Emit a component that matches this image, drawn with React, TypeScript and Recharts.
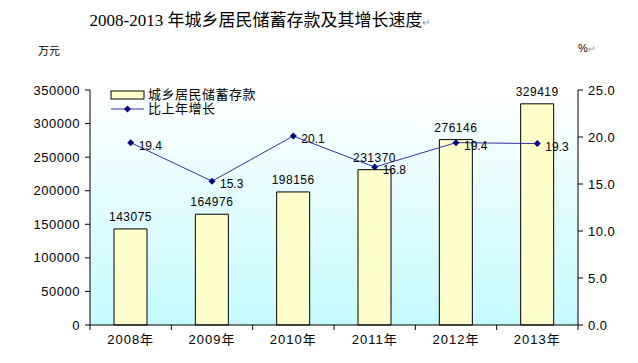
import { ComposedChart, Bar, Line, XAxis, YAxis, CartesianGrid, Legend, LabelList } from "recharts"

const years = ["2008年", "2009年", "2010年", "2011年", "2012年", "2013年"]
const deposits = [143075, 164976, 198156, 231370, 276146, 329419]
const growth = [19.4, 15.3, 20.1, 16.8, 19.4, 19.3]
const leftTicks = [0, 50000, 100000, 150000, 200000, 250000, 300000, 350000]
const rightTicks = [0, 5, 10, 15, 20, 25]

const data = years.map((year, i) => ({ year, deposit: deposits[i], growth: growth[i] }))

const W = 638
const H = 363
const margin = { top: 90, right: 10, left: 30, bottom: 8 }
const leftAxisW = 60
const rightAxisW = 50
const plotW = W - margin.left - margin.right - leftAxisW - rightAxisW
const halfBand = plotW / years.length / 2

const sans = '"Liberation Sans", Arial, "Noto Sans CJK SC", sans-serif'

function Diamond(props: any) {
  const { cx, cy } = props
  if (cx == null || cy == null) return null
  const r = 3.5
  return <path d={`M${cx},${cy - r}L${cx + r},${cy}L${cx},${cy + r}L${cx - r},${cy}Z`} fill="#000080" />
}

function YearTick(props: any) {
  const { x, y, payload, index } = props
  return (
    <g>
      <line x1={x - halfBand} y1={y - 8} x2={x - halfBand} y2={y - 3} stroke="#000" />
      {index === years.length - 1 && (
        <line x1={x + halfBand} y1={y - 8} x2={x + halfBand} y2={y - 3} stroke="#000" />
      )}
      <text x={x} y={y + 11} textAnchor="middle" fontSize={13} letterSpacing={1} fill="#000" fontFamily={sans}>
        {payload.value}
      </text>
    </g>
  )
}

// growth label, a little below the point like in the original
function GrowthLabel(props: any) {
  const { x, y, value } = props
  if (x == null || y == null) return null
  return (
    <text x={x + 8} y={y + 7} fontSize={12} fill="#000" fontFamily={sans}>
      {Number(value).toFixed(1)}
    </text>
  )
}

function LegendBox() {
  return (
    <div style={{ fontFamily: sans, fontSize: 13, color: "#000", lineHeight: "14px", textAlign: "left" }}>
      <div style={{ display: "flex", alignItems: "center" }}>
        <svg width={36} height={14}>
          <rect x={1} y={3} width={33} height={8} fill="#FFFFCC" stroke="#000" />
        </svg>
        <span style={{ marginLeft: 2, letterSpacing: 0.5 }}>城乡居民储蓄存款</span>
      </div>
      <div style={{ display: "flex", alignItems: "center" }}>
        <svg width={36} height={14}>
          <line x1={1} y1={7} x2={34} y2={7} stroke="#333399" />
          <path d="M17.5,3.5L21,7L17.5,10.5L14,7Z" fill="#000080" />
        </svg>
        <span style={{ marginLeft: 2, letterSpacing: 0.5 }}>比上年增长</span>
      </div>
    </div>
  )
}

export default function App() {
  return (
    <div style={{ position: "absolute", left: 0, top: 0, width: W, height: H, background: "#fff" }}>
      <div
        style={{
          position: "absolute",
          left: 0,
          width: 520,
          top: 6,
          textAlign: "center",
          fontFamily: '"Liberation Serif", "Noto Sans CJK SC", serif',
          fontSize: 17,
          color: "#000",
        }}
      >
        2008-2013 年城乡居民储蓄存款及其增长速度<span style={{ fontSize: 10, color: "#999" }}>↵</span>
      </div>
      <div style={{ position: "absolute", left: 38, top: 42, fontFamily: sans, fontSize: 11, color: "#000" }}>
        万元
      </div>
      <div style={{ position: "absolute", left: 578, top: 42, fontFamily: sans, fontSize: 11, color: "#000" }}>
        %<span style={{ fontSize: 9, color: "#999" }}>↵</span>
      </div>
      <ComposedChart width={W} height={H} data={data} margin={margin} barCategoryGap="20%">
        <defs>
          <linearGradient id="plotBg" x1="0" y1="0" x2="0" y2="1">
            <stop offset="0%" stopColor="#FFFFFF" />
            <stop offset="100%" stopColor="#C4FAFF" />
          </linearGradient>
        </defs>
        <CartesianGrid horizontal={false} vertical={false} fill="url(#plotBg)" fillOpacity={1} />
        <XAxis
          dataKey="year"
          tick={<YearTick />}
          tickLine={false}
          axisLine={{ stroke: "#000" }}
          height={30}
          interval={0}
        />
        <YAxis
          yAxisId="left"
          domain={[0, 350000]}
          ticks={leftTicks}
          width={leftAxisW}
          tickSize={5}
          tickMargin={5}
          axisLine={{ stroke: "#000" }}
          tickLine={{ stroke: "#000" }}
          tick={{ fontSize: 13, fill: "#000", fontFamily: sans, letterSpacing: 0.5 }}
          interval={0}
        />
        <YAxis
          yAxisId="right"
          orientation="right"
          domain={[0, 25]}
          ticks={rightTicks}
          width={rightAxisW}
          tickSize={5}
          tickMargin={5}
          axisLine={{ stroke: "#000" }}
          tickLine={{ stroke: "#000" }}
          tick={{ fontSize: 13, fill: "#000", fontFamily: sans, letterSpacing: 0.5 }}
          tickFormatter={(v: number) => v.toFixed(1)}
          interval={0}
        />
        <Legend
          layout="vertical"
          align="center"
          verticalAlign="middle"
          content={<LegendBox />}
          wrapperStyle={{ left: 110, top: 88, width: 170 }}
        />
        <Bar
          yAxisId="left"
          dataKey="deposit"
          name="城乡居民储蓄存款"
          fill="#FFFFCC"
          stroke="#000"
          strokeWidth={1}
          barSize={33}
          isAnimationActive={false}
        >
          <LabelList
            dataKey="deposit"
            position="top"
            offset={8}
            fontSize={12}
            letterSpacing={0.5}
            fill="#000"
            fontFamily={sans}
          />
        </Bar>
        <Line
          yAxisId="right"
          dataKey="growth"
          name="比上年增长"
          stroke="#333399"
          strokeWidth={1}
          dot={<Diamond />}
          activeDot={false}
          isAnimationActive={false}
        >
          <LabelList dataKey="growth" content={<GrowthLabel />} />
        </Line>
      </ComposedChart>
    </div>
  )
}
